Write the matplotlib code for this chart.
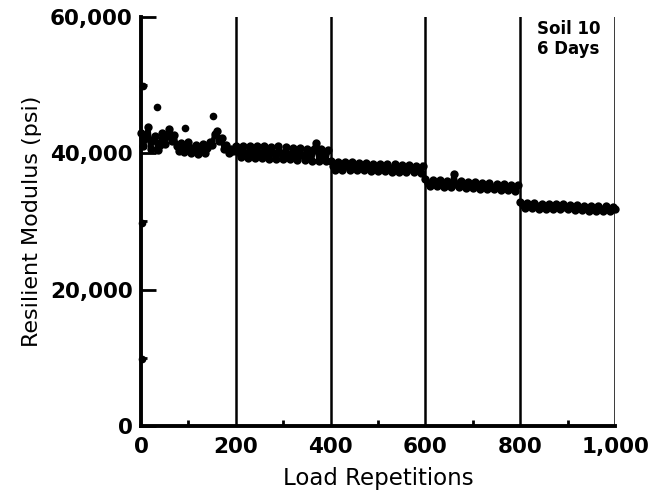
import matplotlib
matplotlib.use("Agg")
import matplotlib.pyplot as plt

# ---- data (psi) ----
seg1_x = list(range(0, 200, 5))
seg1_y = [43000, 41000, 42200, 43800, 40600, 42000, 42600, 40500, 41200, 43000,
          41300, 42500, 43600, 41800, 42700, 41000, 40400, 41500, 40200, 41000,
          41600, 40000, 40800, 41200, 39900, 40600, 41300, 40100, 40800, 41600,
          41200, 42800, 43200, 41800, 42300, 40600, 41200, 40000, 40700, 40300]

seg2_x = list(range(200, 400, 5))
seg2_y = [41100, 40200, 39400, 41000, 40100, 39300, 41100, 40200, 39300, 41000,
          40100, 39300, 41100, 40100, 39200, 40900, 40000, 39200, 41000, 40000,
          39100, 40900, 39900, 39100, 40800, 39900, 39000, 40800, 39800, 39000,
          40700, 39800, 38900, 40700, 41500, 38900, 40600, 39700, 38800, 40500]

seg3_x = list(range(400, 600, 5))
seg3_y = [38800, 38200, 37600, 38700, 38100, 37600, 38700, 38100, 37500, 38700,
          38100, 37500, 38600, 38000, 37500, 38600, 38000, 37400, 38500, 38000,
          37400, 38500, 37900, 37400, 38400, 37900, 37300, 38400, 37800, 37300,
          38300, 37800, 37200, 38300, 37700, 37200, 38200, 37700, 37100, 38200]

seg4_x = list(range(600, 800, 5))
seg4_y = [36200, 35700, 35200, 36100, 35600, 35200, 36100, 35600, 35100, 36000,
          35500, 35100, 36900, 35500, 35000, 35900, 35400, 34900, 35800, 35400,
          34900, 35800, 35300, 34800, 35700, 35200, 34800, 35600, 35100, 34700,
          35500, 35100, 34600, 35500, 35000, 34600, 35400, 34900, 34500, 35300]

seg5_x = list(range(800, 1001, 5))
seg5_y = [32800, 32400, 32000, 32700, 32400, 32000, 32700, 32300, 31900, 32600,
          32300, 31900, 32600, 32200, 31900, 32500, 32200, 31800, 32500, 32100,
          31800, 32400, 32100, 31700, 32400, 32000, 31700, 32300, 32000, 31600,
          32300, 31900, 31600, 32200, 31900, 31500, 32200, 31800, 31500, 32100, 31800]

outlier_x = [2, 2, 4, 34, 93, 152]
outlier_y = [9800, 29800, 49900, 46800, 43700, 45500]

stage_lines = [200, 400, 600, 800, 1000]
xticks = [0, 200, 400, 600, 800, 1000]
xtick_labels = ["0", "200", "400", "600", "800", "1,000"]
yticks = [0, 20000, 40000, 60000]
ytick_labels = ["0", "20,000", "40,000", "60,000"]

# ---- figure ----
fig = plt.figure(figsize=(6.56, 4.98), dpi=100)
ax = fig.add_axes([0.215, 0.1446, 0.7225, 0.8214])

for xs, ys in [(seg1_x, seg1_y), (seg2_x, seg2_y), (seg3_x, seg3_y),
               (seg4_x, seg4_y), (seg5_x, seg5_y)]:
    ax.plot(xs, ys, '-o', color='black', markersize=6, markeredgewidth=0,
            linewidth=3.5, solid_joinstyle='round', clip_on=False, zorder=3)
ax.plot(outlier_x, outlier_y, 'o', color='black', markersize=5.5,
        markeredgewidth=0, clip_on=False, zorder=3)

for xv in stage_lines:
    ax.axvline(xv, color='black', linewidth=1.8, zorder=1)

ax.set_xlim(0, 1000)
ax.set_ylim(0, 60000)
ax.spines['top'].set_visible(False)
ax.spines['right'].set_visible(False)
ax.spines['left'].set_linewidth(2.8)
ax.spines['bottom'].set_linewidth(2.8)

ax.set_xticks(xticks)
ax.set_xticklabels(xtick_labels)
ax.set_yticks(yticks)
ax.set_yticklabels(ytick_labels)
ax.set_xticks([100, 300, 500, 700, 900], minor=True)
ax.set_yticks([10000, 30000, 50000], minor=True)
ax.tick_params(axis='both', which='major', direction='in', length=11, width=2,
               labelsize=15.5, pad=6)
ax.tick_params(axis='x', which='major', length=0, pad=8)
ax.tick_params(axis='both', which='minor', direction='in', length=4, width=2)
for lab in ax.get_xticklabels() + ax.get_yticklabels():
    lab.set_fontweight('bold')
    lab.set_family('DejaVu Sans')

ax.set_xlabel("Load Repetitions", fontsize=16.5, family='DejaVu Sans', labelpad=7)
ax.set_ylabel("Resilient Modulus (psi)", fontsize=16, family='DejaVu Sans',
              labelpad=6)

ax.text(835, 59500, "Soil 10\n6 Days", fontsize=12, fontweight='bold',
        family='DejaVu Sans', ha='left', va='top', linespacing=1.1)

fig.savefig("out.png", dpi=100)
